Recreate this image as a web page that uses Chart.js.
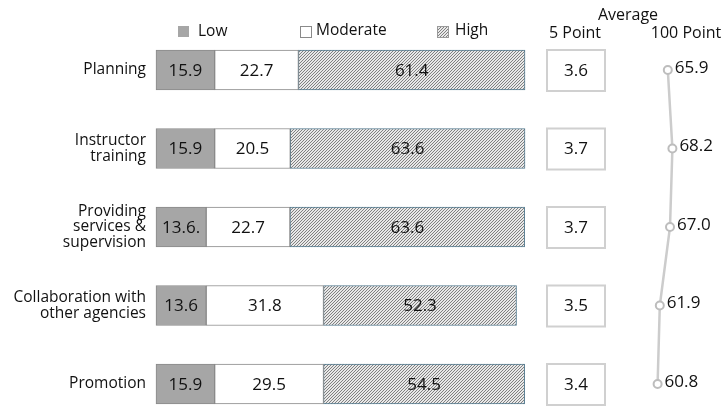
<!DOCTYPE html>
<html>
<head>
<meta charset="utf-8">
<script src="https://cdn.jsdelivr.net/npm/chart.js@4.4.1/dist/chart.umd.min.js"></script>
<style>
  html, body { margin: 0; padding: 0; background: #fff; }
  #wrap { position: relative; width: 722px; height: 407px; }
</style>
</head>
<body>
<div id="wrap"><canvas id="c" width="722" height="407"></canvas></div>
<script>
// 카테고리와 값
var categories = [
  'Planning',
  ['Instructor', 'training'],
  ['Providing', 'services &', 'supervision'],
  ['Collaboration with', 'other agencies'],
  'Promotion'
];
var lowValues = [15.9, 15.9, 13.6, 13.6, 15.9];
var lowText = ['15.9', '15.9', '13.6.', '13.6', '15.9'];
var moderateValues = [22.7, 20.5, 22.7, 31.8, 29.5];
var highValues = [61.4, 63.6, 63.6, 52.3, 54.5];
var avg5Point = [3.6, 3.7, 3.7, 3.5, 3.4];
var avg100Point = [65.9, 68.2, 67.0, 61.9, 60.8];

var FONT = '"Open Sans", "Noto Sans", sans-serif';
var TEXT = '#111';

// 촘촘한 사선 해칭 (3px 타일, 픽셀 단위)
function makeHatch() {
  var t = document.createElement('canvas');
  t.width = 3; t.height = 3;
  var g = t.getContext('2d');
  var img = g.createImageData(3, 3);
  for (var yy = 0; yy < 3; yy++) {
    for (var xx = 0; xx < 3; xx++) {
      var dark = ((xx + yy) % 3) === 2;
      var c = dark ? 128 : 232;
      var k = (yy * 3 + xx) * 4;
      img.data[k] = c; img.data[k + 1] = c; img.data[k + 2] = c; img.data[k + 3] = 255;
    }
  }
  g.putImageData(img, 0, 0);
  return g.createPattern(t, 'repeat');
}
var hatch = makeHatch();

// 막대 안 값 라벨 + 100점 라벨
var barLabelPlugin = {
  id: 'barLabels',
  afterDatasetsDraw: function (chart) {
    var ctx = chart.ctx;
    ctx.save();
    ctx.font = '17px ' + FONT;
    ctx.fillStyle = TEXT;
    ctx.textAlign = 'center';
    ctx.textBaseline = 'middle';
    [0, 1, 2].forEach(function (di) {
      var meta = chart.getDatasetMeta(di);
      var ds = chart.data.datasets[di];
      meta.data.forEach(function (el, i) {
        var txt = ds.labelsText ? ds.labelsText[i] : ds.data[i].toFixed(1);
        ctx.fillText(txt, (el.x + el.base) / 2, el.y + 1);
      });
    });
    var lm = chart.getDatasetMeta(3);
    ctx.font = '17px ' + FONT;
    ctx.textAlign = 'left';
    lm.data.forEach(function (pt, i) {
      ctx.fillText(avg100Point[i].toFixed(1), pt.x + 7, pt.y - 2);
    });
    ctx.restore();
  }
};

// 5점 평균 박스, 범례, 헤더
var decorPlugin = {
  id: 'decor',
  afterDraw: function (chart) {
    var ctx = chart.ctx;
    var y = chart.scales.y;
    ctx.save();
    ctx.font = '17px ' + FONT;
    ctx.textAlign = 'center';
    ctx.textBaseline = 'middle';
    avg5Point.forEach(function (v, i) {
      var cy = y.getPixelForValue(i);
      ctx.fillStyle = '#fff';
      ctx.fillRect(547, cy - 20, 58, 41);
      ctx.strokeStyle = '#d0d0d0';
      ctx.lineWidth = 2;
      ctx.strokeRect(547, cy - 20, 58, 41);
      ctx.fillStyle = TEXT;
      ctx.fillText(v.toFixed(1), 576, cy + 1);
    });

    // 범례
    ctx.font = '15.5px ' + FONT;
    ctx.textAlign = 'left';
    ctx.fillStyle = '#a6a6a6';
    ctx.fillRect(178, 26, 11, 11);
    ctx.fillStyle = '#fff';
    ctx.fillRect(300, 26, 11, 11);
    ctx.strokeStyle = '#8a8a8a';
    ctx.lineWidth = 1;
    ctx.strokeRect(300.5, 26.5, 11, 11);
    ctx.fillStyle = hatch;
    ctx.fillRect(437, 26, 11, 11);
    ctx.strokeStyle = '#9a9a9a';
    ctx.strokeRect(437.5, 26.5, 11, 11);
    ctx.fillStyle = TEXT;
    ctx.fillText('Low', 198, 32);
    ctx.fillText('Moderate', 316, 31);
    ctx.fillText('High', 455, 31);

    // 헤더
    ctx.font = '16px ' + FONT;
    ctx.textAlign = 'center';
    ctx.fillText('Average', 628, 15);
    ctx.fillText('5 Point', 575, 33);
    ctx.fillText('100 Point', 686, 33);
    ctx.restore();
  }
};

var chart = new Chart(document.getElementById('c'), {
  type: 'bar',
  data: {
    labels: categories,
    datasets: [
      {
        label: 'Low',
        data: lowValues,
        labelsText: lowText,
        backgroundColor: '#a6a6a6',
        borderColor: '#8a8a8a',
        borderWidth: 1,
        borderSkipped: false,
        barThickness: 40,
        clip: false
      },
      {
        label: 'Moderate',
        data: moderateValues,
        backgroundColor: '#ffffff',
        borderColor: '#8a8a8a',
        borderWidth: 1,
        borderSkipped: false,
        barThickness: 40,
        clip: false
      },
      {
        label: 'High',
        data: highValues,
        backgroundColor: hatch,
        borderColor: '#52798e',
        borderWidth: 1,
        borderSkipped: false,
        barThickness: 40,
        clip: false
      },
      {
        type: 'line',
        label: '100 Point',
        data: avg100Point.map(function (v, i) { return { x: v, y: i }; }),
        xAxisID: 'x2',
        borderColor: '#cccccc',
        borderWidth: 2.5,
        pointRadius: 4,
        pointBorderWidth: 2,
        pointBorderColor: '#bdbdbd',
        pointBackgroundColor: '#fff',
        tension: 0,
        clip: false
      }
    ]
  },
  options: {
    indexAxis: 'y',
    animation: false,
    responsive: false,
    layout: { padding: { left: 0, right: 12.5, top: 70, bottom: 23 } },
    scales: {
      x: { stacked: true, min: 0, max: 150, display: false },
      x2: { type: 'linear', min: -190, max: 86.75, display: false },
      y: {
        stacked: true,
        offset: false,
        grid: { display: false },
        border: { display: false },
        afterFit: function (s) { s.width = 156; },
        ticks: {
          color: TEXT,
          padding: 2,
          font: { family: FONT, size: 15.5, lineHeight: 1.0 }
        }
      }
    },
    plugins: {
      legend: { display: false },
      tooltip: { enabled: false }
    }
  },
  plugins: [barLabelPlugin, decorPlugin]
});
</script>
</body>
</html>
